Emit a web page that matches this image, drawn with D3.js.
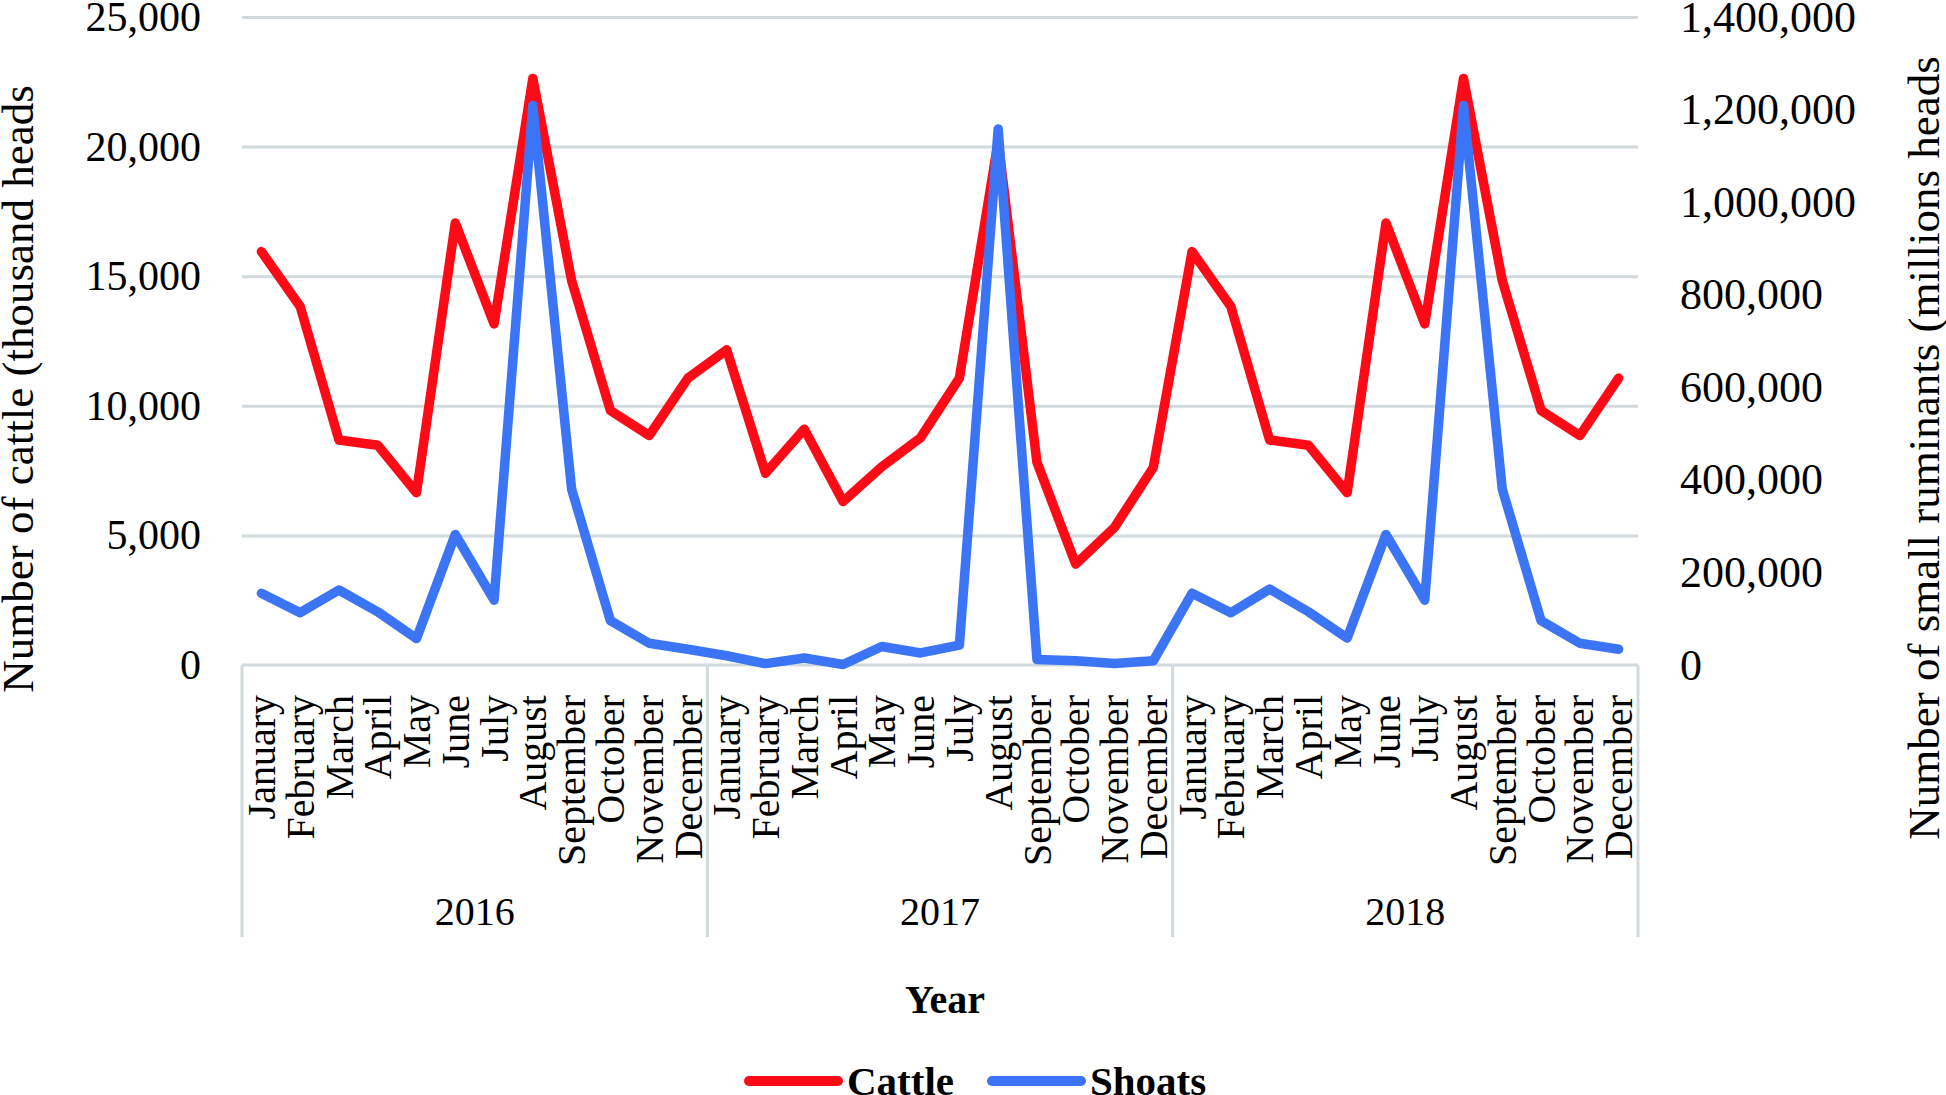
<!DOCTYPE html>
<html>
<head>
<meta charset="utf-8">
<script src="https://cdn.jsdelivr.net/npm/d3@7"></script>
<style>
  body { margin: 0; background: #fff; }
  svg text { font-family: "Liberation Serif", "Times New Roman", serif; fill: #000; }
</style>
</head>
<body>
<div id="chart"></div>
<script>
const width = 1946;
const height = 1095;
const plot = { left: 242, right: 1638, top: 17, bottom: 665 };

// data
const years = ["2016", "2017", "2018"];
const months = [
  "January", "February", "March", "April", "May", "June",
  "July", "August", "September", "October", "November", "December",
];
const cattle2016 = [15950, 13830, 8680, 8480, 6650, 17050, 13160, 22630, 14830, 9820, 8850, 11070];
const cattle2017 = [12160, 7400, 9100, 6310, 7650, 8770, 11070, 20200, 7820, 3890, 5310, 7620];
const cattle2018 = [15950, 13830, 8680, 8480, 6650, 17050, 13160, 22630, 14830, 9820, 8850, 11070];
const shoats2016 = [155000, 113000, 162000, 115000, 57000, 282000, 140000, 1209000, 380000, 96000, 47000, 34000];
const shoats2017 = [20000, 3000, 15000, 1000, 40000, 26000, 43000, 1158000, 12000, 9000, 3000, 9000];
const shoats2018 = [155000, 113000, 164000, 115000, 58000, 282000, 140000, 1209000, 380000, 96000, 47000, 34000];
const leftTicks = [0, 5000, 10000, 15000, 20000, 25000];
const rightTicks = [0, 200000, 400000, 600000, 800000, 1000000, 1200000, 1400000];

const categories = [];
years.forEach((y) => months.forEach((m) => categories.push(y + "|" + m)));
const cattle = cattle2016.concat(cattle2017, cattle2018);
const shoats = shoats2016.concat(shoats2017, shoats2018);

const series = [
  { name: "Cattle", color: "#fe0a16", values: cattle, axis: "left" },
  { name: "Shoats", color: "#3b74f5", values: shoats, axis: "right" },
];

const gridColor = "#d1dadd";

const svg = d3
  .select("#chart")
  .append("svg")
  .attr("width", width)
  .attr("height", height);

const x = d3
  .scaleBand()
  .domain(categories)
  .range([plot.left, plot.right])
  .padding(0);

const yLeft = d3.scaleLinear().domain([0, 25000]).range([plot.bottom, plot.top]);
const yRight = d3.scaleLinear().domain([0, 1400000]).range([plot.bottom, plot.top]);

// gridlines
svg
  .append("g")
  .attr("transform", `translate(${plot.left},0)`)
  .call(
    d3.axisLeft(yLeft).tickValues(leftTicks.slice(1)).tickSize(-(plot.right - plot.left)).tickFormat("")
  )
  .call((g) => g.select(".domain").remove())
  .call((g) => g.selectAll("line").attr("stroke", gridColor).attr("stroke-width", 3));

// left axis labels
svg
  .append("g")
  .attr("transform", `translate(${plot.left},0)`)
  .call(d3.axisLeft(yLeft).tickValues(leftTicks).tickSize(0).tickPadding(41).tickFormat(d3.format(",")))
  .call((g) => g.select(".domain").remove())
  .call((g) => g.selectAll("text").style("font-size", "42px"));

// right axis labels
svg
  .append("g")
  .attr("transform", `translate(${plot.right},0)`)
  .call(d3.axisRight(yRight).tickValues(rightTicks).tickSize(0).tickPadding(42).tickFormat(d3.format(",")))
  .call((g) => g.select(".domain").remove())
  .call((g) => g.selectAll("text").style("font-size", "44px"));

// category axis: months
svg
  .append("g")
  .attr("transform", `translate(0,${plot.bottom})`)
  .call(d3.axisBottom(x).tickSize(0).tickFormat((d) => d.split("|")[1]))
  .call((g) => g.select(".domain").remove())
  .call((g) =>
    g
      .selectAll("text")
      .attr("transform", "rotate(-90)")
      .attr("x", -30)
      .attr("y", 0)
      .attr("dy", "0.34em")
      .style("text-anchor", "end")
      .style("font-size", "40px")
  );

// year group boxes
const groupBottom = 937;
const boxes = svg.append("g").attr("stroke", gridColor).attr("stroke-width", 3);
boxes
  .append("line")
  .attr("x1", plot.left)
  .attr("x2", plot.right)
  .attr("y1", plot.bottom)
  .attr("y2", plot.bottom);
const edges = years.map((y) => x(y + "|January")).concat([plot.right]);
boxes
  .selectAll(".sep")
  .data(edges)
  .enter()
  .append("line")
  .attr("x1", (d) => d)
  .attr("x2", (d) => d)
  .attr("y1", plot.bottom)
  .attr("y2", groupBottom);

svg
  .append("g")
  .selectAll("text")
  .data(years)
  .enter()
  .append("text")
  .attr("x", (d) => (x(d + "|January") + x(d + "|December") + x.bandwidth()) / 2)
  .attr("y", 925)
  .attr("text-anchor", "middle")
  .style("font-size", "40px")
  .text((d) => d);

// lines
const lineLeft = d3
  .line()
  .x((d, i) => x(categories[i]) + x.bandwidth() / 2)
  .y((d) => yLeft(d));
const lineRight = d3
  .line()
  .x((d, i) => x(categories[i]) + x.bandwidth() / 2)
  .y((d) => yRight(d));

svg
  .append("g")
  .selectAll("path")
  .data(series)
  .enter()
  .append("path")
  .attr("d", (s) => (s.axis === "left" ? lineLeft(s.values) : lineRight(s.values)))
  .attr("fill", "none")
  .attr("stroke", (s) => s.color)
  .attr("stroke-width", 9.5)
  .attr("stroke-linejoin", "round")
  .attr("stroke-linecap", "round");

// axis titles
svg
  .append("text")
  .attr("transform", "translate(33,389) rotate(-90)")
  .attr("text-anchor", "middle")
  .style("font-size", "45px")
  .text("Number of cattle (thousand heads");

svg
  .append("text")
  .attr("transform", "translate(1939,448) rotate(-90)")
  .attr("text-anchor", "middle")
  .style("font-size", "45px")
  .text("Number of small ruminants (millions heads");

svg
  .append("text")
  .attr("x", 945)
  .attr("y", 1013)
  .attr("text-anchor", "middle")
  .style("font-size", "40px")
  .style("font-weight", "bold")
  .text("Year");

// legend
const legendItems = [
  { x: 749, color: series[0].color, label: "Cattle" },
  { x: 992, color: series[1].color, label: "Shoats" },
];
const legend = svg
  .append("g")
  .selectAll("g")
  .data(legendItems)
  .enter()
  .append("g")
  .attr("transform", (d) => `translate(${d.x},1081)`);
legend
  .append("line")
  .attr("x1", 0)
  .attr("x2", 89)
  .attr("stroke", (d) => d.color)
  .attr("stroke-width", 10)
  .attr("stroke-linecap", "round");
legend
  .append("text")
  .attr("x", 98)
  .attr("y", 14)
  .style("font-size", "41px")
  .style("font-weight", "bold")
  .text((d) => d.label);
</script>
</body>
</html>
